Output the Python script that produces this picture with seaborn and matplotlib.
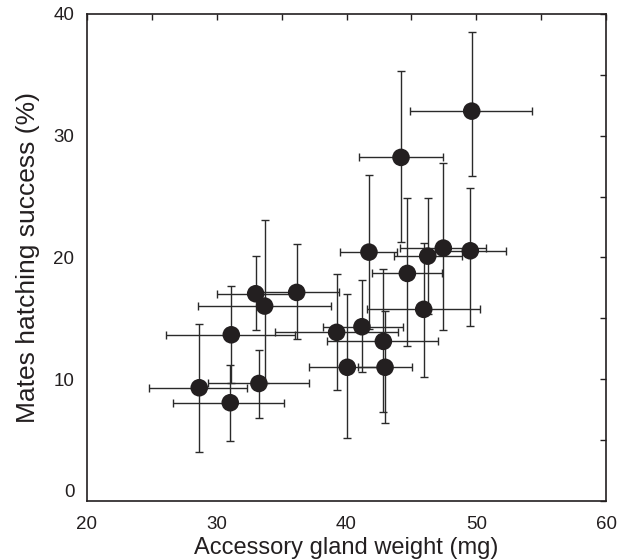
import matplotlib
matplotlib.use("Agg")
import matplotlib.pyplot as plt
import seaborn as sns
import numpy as np
import pandas as pd
from matplotlib.ticker import MultipleLocator

# values
gland_weight = [28.65, 31.04, 31.12, 33.25, 33.0, 33.69, 36.16, 39.24, 40.06, 41.19,
                41.73, 42.84, 42.97, 44.2, 44.69, 45.95, 46.26, 47.46, 49.54, 49.65]
hatching = [9.30, 8.07, 13.65, 9.65, 17.02, 16.01, 17.13, 13.85, 10.98, 14.31,
            20.44, 13.11, 10.98, 28.22, 18.69, 15.74, 20.11, 20.77, 20.55, 32.02]
# error bar ends
x_low = [24.8, 26.64, 26.06, 29.35, 30.0, 28.53, 32.9, 34.5, 37.13, 38.2,
         39.5, 38.47, 40.9, 40.94, 42.0, 41.6, 43.66, 44.12, 46.8, 44.89]
x_high = [32.3, 35.18, 36.03, 37.13, 36.0, 38.8, 39.42, 43.95, 43.0, 44.33,
          43.9, 47.03, 45.02, 47.46, 47.38, 50.31, 48.88, 50.73, 52.29, 54.27]
y_low = [4.05, 4.95, 9.7, 6.79, 14.04, 9.7, 13.27, 9.11, 5.15, 10.62,
         14.1, 7.33, 6.38, 21.24, 12.75, 10.2, 15.34, 14.04, 14.37, 26.7]
y_high = [14.53, 11.17, 17.63, 12.37, 20.14, 23.07, 21.07, 18.64, 17.0, 18.17,
          26.8, 19.05, 15.57, 35.28, 24.85, 21.2, 24.88, 27.72, 25.67, 38.53]

df = pd.DataFrame({"weight": gland_weight, "hatch": hatching,
                   "xlo": x_low, "xhi": x_high, "ylo": y_low, "yhi": y_high})

sns.set_theme(style="white")
plt.rcParams['font.family'] = ['Liberation Sans', 'DejaVu Sans']

fig = plt.figure(figsize=(6.24, 5.59), dpi=100)
ax = fig.add_axes([0.1394, 0.1038, 0.8318, 0.8712])

xerr = np.array([df["weight"] - df["xlo"], df["xhi"] - df["weight"]])
yerr = np.array([df["hatch"] - df["ylo"], df["yhi"] - df["hatch"]])
ax.errorbar(df["weight"], df["hatch"], xerr=xerr, yerr=yerr, fmt="none",
            ecolor="#2a2a2a", elinewidth=1.0, capsize=2.6, capthick=1.0, zorder=2)
sns.scatterplot(x="weight", y="hatch", data=df, ax=ax, color="#231f20", s=160,
                edgecolor="none", zorder=3, legend=False)

ax.set_xlim(20, 60)
ax.set_ylim(0, 40)
ax.xaxis.set_major_locator(MultipleLocator(10))
ax.yaxis.set_major_locator(MultipleLocator(10))
ax.xaxis.set_minor_locator(MultipleLocator(5))
ax.yaxis.set_minor_locator(MultipleLocator(5))
ax.tick_params(which="both", direction="in", top=True, right=True, length=4,
               width=1.0, color="#231f20", labelsize=13.5, labelcolor="#231f20")
ax.tick_params(axis="x", which="major", pad=11)
ax.tick_params(axis="y", which="major", pad=9)

for s in ax.spines.values():
    s.set_color("#231f20")
    s.set_linewidth(1.2)

ax.set_xlabel("Accessory gland weight (mg)", fontsize=17, color="#231f20", labelpad=3)
ax.set_ylabel("Mates hatching success (%)", fontsize=19, color="#231f20", labelpad=10)

# the "0" on the y axis sits a little above the corner
fig.canvas.draw()
for t in ax.yaxis.get_major_ticks():
    if t.get_loc() is not None and abs(t.get_loc()) < 1e-9:
        t.label1.set_verticalalignment("bottom")

fig.savefig("out.png", dpi=100)
plt.close()
